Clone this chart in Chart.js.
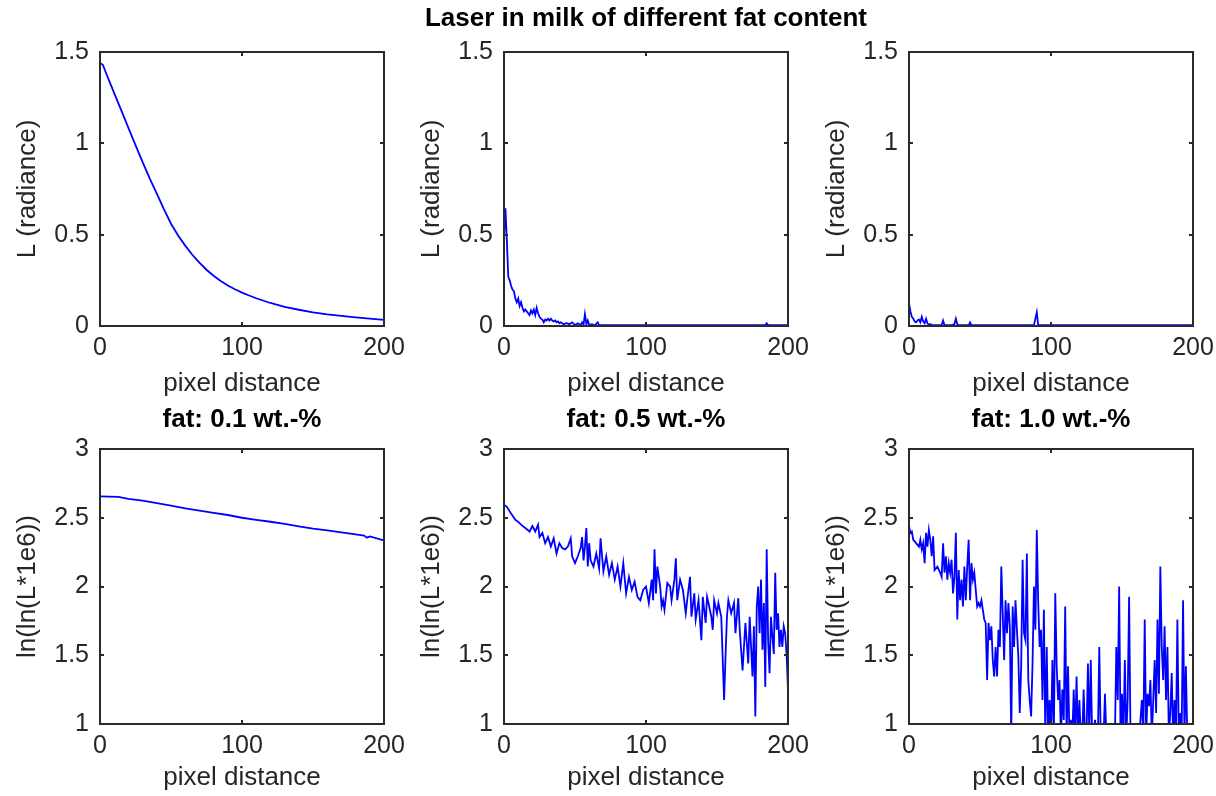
<!DOCTYPE html>
<html>
<head>
<meta charset="utf-8">
<script src="https://cdn.jsdelivr.net/npm/chart.js@4.4.1/dist/chart.umd.min.js"></script>
<style>
    body { margin: 0; background: #fff; width: 1216px; height: 796px; position: relative; overflow: hidden; }
    canvas { position: absolute; }
</style>
</head>
<body>
<canvas id="p1"></canvas>
<canvas id="p2"></canvas>
<canvas id="p3"></canvas>
<canvas id="p4"></canvas>
<canvas id="p5"></canvas>
<canvas id="p6"></canvas>
<script>
// radiance, fat 0.1 wt.-%
var topLeftDist = [0, 2, 5, 10, 15, 20, 25, 30, 35, 40, 45, 50, 55, 60, 65, 70, 75, 80, 85, 90, 95, 100, 105, 110, 120, 130, 140, 150, 160, 170, 180, 190, 200]
var topLeftL = [1.44, 1.43, 1.37, 1.275, 1.18, 1.085, 0.99, 0.897, 0.808, 0.725, 0.64, 0.56, 0.495, 0.44, 0.39, 0.347, 0.308, 0.275, 0.246, 0.222, 0.201, 0.183, 0.167, 0.152, 0.126, 0.105, 0.089, 0.075, 0.064, 0.055, 0.047, 0.04, 0.033]

// radiance, fat 0.5 wt.-%
var topMidDist = [0, 1, 2, 3, 4, 5, 6, 7, 8, 9, 10, 11, 12, 13, 14, 15, 16, 17, 18, 19, 20, 21, 22, 23, 24, 25, 26, 27, 28, 29, 30, 31, 32, 33, 34, 35, 36, 37, 38, 39, 40, 42, 44, 46, 48, 50, 52, 54, 55, 56, 57, 58, 59, 60, 62, 64, 66, 67, 70, 100, 150, 184, 185, 186, 200]
var topMidL = [0.48, 0.645, 0.47, 0.27, 0.25, 0.22, 0.20, 0.19, 0.15, 0.13, 0.15, 0.11, 0.13, 0.10, 0.08, 0.09, 0.08, 0.07, 0.06, 0.085, 0.07, 0.09, 0.06, 0.10, 0.07, 0.05, 0.04, 0.035, 0.02, 0.035, 0.03, 0.04, 0.03, 0.04, 0.03, 0.025, 0.03, 0.02, 0.025, 0.015, 0.02, 0.01, 0.015, 0.01, 0.02, 0.005, 0.015, 0.005, 0.02, 0.008, 0.065, 0.01, 0.03, 0.005, 0.01, 0.003, 0.02, 0.004, 0.004, 0.004, 0.004, 0.004, 0.015, 0.004, 0.004]

// radiance, fat 1.0 wt.-%
var topRightDist = [0, 1, 2, 3, 4, 5, 6, 7, 8, 9, 10, 11, 12, 13, 14, 15, 16, 20, 23, 24, 25, 30, 32, 33, 34, 35, 40, 42, 43, 44, 50, 88, 89, 90, 91, 100, 150, 200]
var topRightL = [0.125, 0.08, 0.05, 0.04, 0.025, 0.02, 0.03, 0.035, 0.02, 0.05, 0.025, 0.015, 0.04, 0.015, 0.006, 0.01, 0.004, 0.004, 0.004, 0.03, 0.004, 0.004, 0.01, 0.04, 0.01, 0.004, 0.004, 0.004, 0.02, 0.004, 0.004, 0.004, 0.04, 0.075, 0.004, 0.004, 0.004, 0.004]

// ln(ln(L*1e6)), fat 0.1 wt.-%
var botLeftDist = [0, 13, 20, 30, 40, 50, 60, 70, 80, 90, 100, 110, 120, 130, 140, 150, 160, 170, 180, 186, 188, 190, 200]
var botLeftLL = [2.655, 2.652, 2.638, 2.624, 2.607, 2.588, 2.569, 2.552, 2.535, 2.52, 2.50, 2.485, 2.471, 2.455, 2.438, 2.421, 2.408, 2.393, 2.379, 2.37, 2.355, 2.364, 2.335]

// ln(ln(L*1e6)), fat 0.5 wt.-%
var botMidDist = [0, 2, 5, 8, 10, 12, 15, 18, 20, 22, 24, 25, 27, 29, 31, 33, 35, 37, 39, 41, 43, 45, 47, 48, 50, 52, 54, 55, 56, 57, 58, 59, 60, 61, 63, 65, 67, 68, 70, 72, 74, 76, 78, 80, 82, 84, 86, 88, 90, 92, 94, 96, 98, 100, 102, 104, 105, 106, 107, 108, 109, 110, 111, 112, 113, 115, 117, 118, 120, 121, 122, 124, 126, 128, 129, 131, 132, 134, 135, 137, 139, 140, 142, 143, 144, 146, 147, 148, 150, 151, 153, 155, 156, 157, 158, 160, 162, 163, 165, 166, 168, 170, 172, 173, 175, 176, 177, 178, 179, 180, 181, 182, 183, 184, 185, 186, 187, 188, 189, 190, 191, 192, 193, 194, 195, 196, 197, 198, 199, 200]
var botMidLL = [2.595, 2.58, 2.53, 2.485, 2.47, 2.45, 2.425, 2.40, 2.44, 2.40, 2.45, 2.36, 2.39, 2.315, 2.36, 2.29, 2.35, 2.24, 2.315, 2.28, 2.27, 2.29, 2.35, 2.22, 2.17, 2.22, 2.28, 2.36, 2.19, 2.29, 2.425, 2.145, 2.315, 2.19, 2.145, 2.24, 2.13, 2.35, 2.11, 2.22, 2.085, 2.17, 2.05, 2.145, 2.0, 2.17, 1.95, 2.07, 1.975, 2.035, 1.925, 1.90, 1.975, 2.0, 1.88, 2.05, 1.90, 2.27, 1.95, 2.145, 2.07, 2.0, 1.855, 1.90, 1.83, 2.025, 2.0, 1.90, 2.05, 2.205, 1.90, 2.05, 1.975, 1.805, 1.90, 2.07, 1.78, 1.95, 1.76, 1.90, 1.61, 1.925, 1.735, 1.925, 1.88, 1.78, 1.685, 1.90, 1.805, 1.88, 1.78, 1.175, 1.49, 1.78, 1.90, 1.805, 1.88, 1.66, 1.915, 1.685, 1.39, 1.735, 1.44, 1.78, 1.345, 1.71, 1.055, 1.855, 2.0, 1.66, 2.05, 1.54, 1.88, 1.27, 2.27, 1.61, 1.37, 1.78, 1.635, 1.51, 2.10, 1.685, 1.805, 1.56, 1.685, 1.56, 1.71, 1.66, 1.51, 1.25]

// ln(ln(L*1e6)), fat 1.0 wt.-%  (values under 1 fall below the axis)
var botRightDist = [0, 1, 2, 3, 5, 7, 8, 9, 10, 11, 12, 13, 14, 15, 16, 17, 18, 20, 22, 23, 24, 25, 26, 27, 28, 29, 30, 31, 32, 33, 34, 35, 36, 37, 38, 39, 40, 41, 42, 43, 44, 45, 46, 47, 48, 49, 50, 51, 52, 53, 54, 55, 56, 57, 58, 59, 60, 61, 62, 63, 64, 65, 66, 67, 68, 69, 70, 71, 72, 73, 74, 75, 76, 77, 78, 79, 80, 81, 82, 83, 84, 85, 86, 87, 88, 89, 90, 91, 92, 93, 94, 95, 96, 97, 98, 99, 100, 101, 102, 103, 104, 105, 106, 107, 108, 109, 110, 111, 112, 113, 114, 115, 116, 117, 118, 119, 120, 121, 122, 123, 124, 125, 126, 127, 128, 129, 130, 131, 132, 133, 134, 135, 136, 137, 138, 139, 145, 146, 147, 148, 149, 150, 151, 152, 153, 154, 155, 156, 162, 163, 164, 165, 166, 167, 168, 169, 170, 171, 172, 173, 174, 175, 176, 177, 178, 179, 180, 181, 182, 183, 184, 185, 186, 187, 188, 189, 190, 191, 192, 193, 194, 195, 196, 197]
var botRightLL = [2.44, 2.39, 2.40, 2.34, 2.315, 2.29, 2.34, 2.27, 2.315, 2.17, 2.39, 2.29, 2.41, 2.34, 2.22, 2.365, 2.12, 2.145, 2.10, 2.07, 2.315, 2.10, 2.22, 2.05, 2.17, 2.10, 2.195, 1.95, 2.07, 2.39, 1.76, 2.12, 1.90, 2.05, 1.855, 2.145, 1.90, 2.145, 2.34, 1.90, 2.17, 2.05, 2.10, 1.975, 1.855, 1.88, 1.855, 1.90, 1.83, 1.76, 1.735, 1.32, 1.735, 1.61, 1.71, 1.465, 1.345, 1.56, 1.345, 1.685, 1.56, 2.145, 1.805, 1.465, 1.90, 1.66, 1.88, 1.71, 0.9, 1.855, 1.56, 1.90, 1.685, 1.49, 1.08, 1.42, 2.195, 1.66, 1.61, 2.24, 1.32, 1.175, 1.055, 1.44, 2.0, 1.685, 2.41, 1.88, 1.56, 1.685, 1.175, 1.83, 0.9, 1.56, 0.9, 1.175, 0.9, 1.465, 0.9, 1.95, 1.42, 1.175, 1.32, 0.9, 1.25, 1.03, 1.855, 0.9, 1.42, 0.9, 1.03, 0.9, 1.25, 0.9, 1.345, 0.9, 1.175, 0.9, 0.9, 1.25, 0.9, 0.9, 1.44, 0.9, 1.465, 0.9, 0.9, 1.03, 0.9, 0.9, 1.56, 0.9, 0.9, 0.9, 1.22, 0.9, 0.9, 1.56, 1.175, 2.0, 0.9, 1.22, 0.9, 1.465, 0.9, 1.175, 1.925, 0.9, 0.9, 1.03, 1.175, 0.9, 1.76, 0.9, 1.22, 1.13, 1.32, 0.9, 1.175, 1.465, 1.08, 1.76, 1.22, 2.145, 1.56, 1.32, 1.71, 1.175, 1.56, 0.9, 1.08, 1.37, 0.9, 1.175, 0.9, 1.76, 0.9, 1.08, 0.9, 1.90, 0.9, 1.42, 0.9, 0.9]

var mainTitle = "Laser in milk of different fat content"
var fatTitles = ["fat: 0.1 wt.-%", "fat: 0.5 wt.-%", "fat: 1.0 wt.-%"]
var xLabel = "pixel distance"
var yLabelTop = "L (radiance)"
var yLabelBottom = "ln(ln(L*1e6))"

Chart.defaults.font.family = "'Liberation Sans', Arial, sans-serif"

var LABEL_W = 100, RIGHT_PAD = 30, PLOT_W = 284

// matlab style box with inward ticks on all four sides
var boxTicks = {
    id: "boxTicks",
    afterDraw: function (chart) {
        var ctx = chart.ctx, a = chart.chartArea
        var xs = chart.scales.x, ys = chart.scales.y
        ctx.save()
        ctx.strokeStyle = "#2a2a2a"
        ctx.lineWidth = 2
        ctx.strokeRect(a.left, a.top, a.right - a.left, a.bottom - a.top)
        ctx.beginPath()
        xs.ticks.forEach(function (t) {
            var px = Math.round(xs.getPixelForValue(t.value))
            ctx.moveTo(px, a.bottom); ctx.lineTo(px, a.bottom - 4)
            ctx.moveTo(px, a.top); ctx.lineTo(px, a.top + 4)
        })
        ys.ticks.forEach(function (t) {
            var py = Math.round(ys.getPixelForValue(t.value))
            ctx.moveTo(a.left, py); ctx.lineTo(a.left + 4, py)
            ctx.moveTo(a.right, py); ctx.lineTo(a.right - 4, py)
        })
        ctx.stroke()
        ctx.restore()
    }
}

// bold title centred over the plot box (chart.js centres its own title on the whole canvas)
var axTitle = {
    id: "axTitle",
    afterDraw: function (chart, args, opts) {
        if (!opts.text) return
        var ctx = chart.ctx, a = chart.chartArea
        ctx.save()
        ctx.font = "bold 26px 'Liberation Sans', Arial, sans-serif"
        ctx.fillStyle = "#000"
        ctx.textAlign = "center"
        ctx.textBaseline = "middle"
        ctx.fillText(opts.text, (a.left + a.right) / 2, a.top - opts.gap)
        ctx.restore()
    }
}

function makePanel(id, cfg) {
    var canvas = document.getElementById(id)
    var rightPad = cfg.rightPad || RIGHT_PAD
    var w = LABEL_W + PLOT_W + rightPad
    canvas.width = w
    canvas.height = cfg.height
    canvas.style.left = (cfg.plotLeft - LABEL_W) + "px"
    canvas.style.top = cfg.top + "px"
    canvas.style.width = w + "px"
    canvas.style.height = cfg.height + "px"

    var points = cfg.dist.map(function (d, i) { return { x: d, y: cfg.vals[i] } })

    return new Chart(canvas.getContext("2d"), {
        type: "line",
        data: {
            datasets: [{
                data: points,
                borderColor: "#0000ff",
                borderWidth: 1.8,
                pointRadius: 0,
                fill: false,
                tension: 0
            }]
        },
        options: {
            responsive: false,
            animation: false,
            events: [],
            layout: { padding: { top: cfg.padTop, right: rightPad, left: 0, bottom: 0 } },
            plugins: {
                legend: { display: false },
                tooltip: { enabled: false },
                axTitle: { text: cfg.title || "", gap: cfg.titleGap }
            },
            scales: {
                x: {
                    type: "linear",
                    min: 0, max: 200,
                    afterFit: function (s) { s.height = cfg.padBottom },
                    grid: { display: false, drawTicks: false },
                    border: { display: false },
                    ticks: {
                        stepSize: 100, maxRotation: 0, padding: 7, color: "#262626", font: { size: 25 },
                        callback: function (v) { return String(v) }
                    },
                    title: { display: true, text: xLabel, color: "#262626", font: { size: 26 }, padding: { top: 0, bottom: 2 } }
                },
                y: {
                    type: "linear",
                    min: cfg.yMin, max: cfg.yMax,
                    afterFit: function (s) { s.width = LABEL_W },
                    grid: { display: false, drawTicks: false },
                    border: { display: false },
                    ticks: {
                        stepSize: 0.5, padding: 11, color: "#262626", font: { size: 25 },
                        callback: function (v) { return String(v) }
                    },
                    title: { display: true, text: cfg.yLabel, color: "#262626", font: { size: 26 }, padding: { top: 12, bottom: 0 } }
                }
            }
        },
        plugins: [boxTicks, axTitle]
    })
}

var plotLefts = [100, 504, 909]
var topDists = [topLeftDist, topMidDist, topRightDist]
var topVals = [topLeftL, topMidL, topRightL]
var botDists = [botLeftDist, botMidDist, botRightDist]
var botVals = [botLeftLL, botMidLL, botRightLL]

for (var i = 0; i < 3; i++) {
    makePanel("p" + (i + 1), {
        plotLeft: plotLefts[i], top: 0, height: 52 + 274 + 75,
        padTop: 52,
        padBottom: 75,
        rightPad: i === 1 ? 120 : RIGHT_PAD,
        title: i === 1 ? mainTitle : null,
        titleGap: 33,
        dist: topDists[i], vals: topVals[i],
        yMin: 0, yMax: 1.5, yLabel: yLabelTop
    })
    makePanel("p" + (i + 4), {
        plotLeft: plotLefts[i], top: 400, height: 49 + 275 + 71,
        padTop: 49,
        padBottom: 71,
        title: fatTitles[i],
        titleGap: 29,
        dist: botDists[i], vals: botVals[i],
        yMin: 1, yMax: 3, yLabel: yLabelBottom
    })
}
</script>
</body>
</html>
